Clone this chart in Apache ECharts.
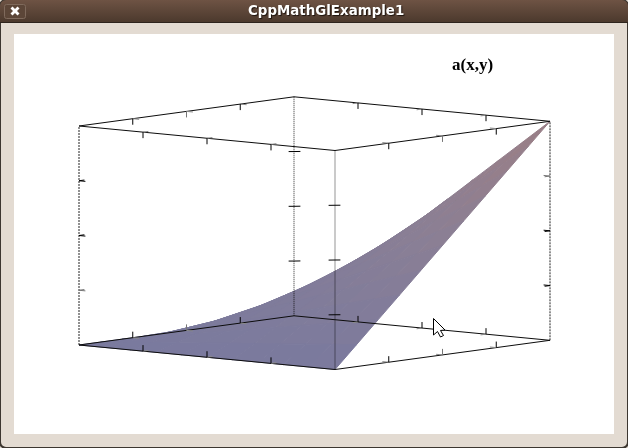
<!DOCTYPE html>
<html>
<head>
<meta charset="utf-8">
<style>html,body{margin:0;padding:0;background:#3c3630}#main{width:628px;height:448px}</style>
<script src="https://cdn.jsdelivr.net/npm/echarts@6/dist/echarts.min.js"></script>
</head>
<body>
<div id="main"></div>
<script>
var windowTitle = 'CppMathGlExample1';
var plotTitle = 'a(x,y)';
var xValues = [0, 0.1, 0.2, 0.3, 0.4, 0.5, 0.6, 0.7, 0.8, 0.9, 1];
var yValues = [0, 0.1, 0.2, 0.3, 0.4, 0.5, 0.6, 0.7, 0.8, 0.9, 1];
// surface values: one row per x value, one column per y value
var a00 = [0, 0, 0, 0, 0, 0, 0, 0, 0, 0, 0];
var a01 = [0, 0.01, 0.02, 0.03, 0.04, 0.05, 0.06, 0.07, 0.08, 0.09, 0.1];
var a02 = [0, 0.02, 0.04, 0.06, 0.08, 0.1, 0.12, 0.14, 0.16, 0.18, 0.2];
var a03 = [0, 0.03, 0.06, 0.09, 0.12, 0.15, 0.18, 0.21, 0.24, 0.27, 0.3];
var a04 = [0, 0.04, 0.08, 0.12, 0.16, 0.2, 0.24, 0.28, 0.32, 0.36, 0.4];
var a05 = [0, 0.05, 0.1, 0.15, 0.2, 0.25, 0.3, 0.35, 0.4, 0.45, 0.5];
var a06 = [0, 0.06, 0.12, 0.18, 0.24, 0.3, 0.36, 0.42, 0.48, 0.54, 0.6];
var a07 = [0, 0.07, 0.14, 0.21, 0.28, 0.35, 0.42, 0.49, 0.56, 0.63, 0.7];
var a08 = [0, 0.08, 0.16, 0.24, 0.32, 0.4, 0.48, 0.56, 0.64, 0.72, 0.8];
var a09 = [0, 0.09, 0.18, 0.27, 0.36, 0.45, 0.54, 0.63, 0.72, 0.81, 0.9];
var a10 = [0, 0.1, 0.2, 0.3, 0.4, 0.5, 0.6, 0.7, 0.8, 0.9, 1];
var aRows = [a00, a01, a02, a03, a04, a05, a06, a07, a08, a09, a10];
var tickValues = [0.25, 0.5, 0.75];

// view of the 3D box on the page
var view = { ox: 79, oy: 345, ux: 256, uy: 24.5, vx: 215, vy: -29.2, wy: -219 };
var tickLen = 0.025;
function project(p) {
  return [view.ox + p[0] * view.ux + p[1] * view.vx,
          view.oy + p[0] * view.uy + p[1] * view.vy + p[2] * view.wy];
}

// box edges as 3D segments
var solidEdges = [], outerEdges = [], innerEdges = [], ticks = [], greyTicks = [], sideTicks = [];
[0, 1].forEach(function (z) {
  solidEdges.push([0, 0, z, 1, 0, z], [1, 0, z, 1, 1, z], [1, 1, z, 0, 1, z], [0, 1, z, 0, 0, z]);
});
outerEdges.push([0, 0, 0, 0, 0, 1], [1, 1, 0, 1, 1, 1]);
innerEdges.push([1, 0, 0, 1, 0, 1], [0, 1, 0, 0, 1, 1]);
function add(list, p, d) { list.push([p[0], p[1], p[2], p[0] + d[0] * tickLen, p[1] + d[1] * tickLen, p[2] + d[2] * tickLen]); }
tickValues.forEach(function (t) {
  [0, 1].forEach(function (z) {
    var up = z ? -1 : 1;
    [0, 1].forEach(function (y) {
      add(ticks, [t, y, z], [0, 0, up * 1.1]);
      add(sideTicks, [t, y, z], [0, y ? -1 : 1, 0]);
    });
    [0, 1].forEach(function (x) {
      add(t === 0.5 ? greyTicks : ticks, [x, t, z], [0, 0, up * 1.1]);
      add(sideTicks, [x, t, z], [x ? -1 : 1, 0, 0]);
    });
  });
  [[0, 0], [1, 0], [0, 1], [1, 1]].forEach(function (c) {
    var list = (c[0] === c[1] && ((c[0] === 0 && t === 0.25) || (c[0] === 1 && t === 0.75))) ? greyTicks : ticks;
    var lift = c[0] === c[1] ? 0 : (c[1] ? 0.13 : -0.13);
    add(list, [c[0], c[1], t], [c[0] ? -1 : 1, 0, lift]);
    add(list, [c[0], c[1], t], [0, c[1] ? -1 : 1, lift]);
  });
});

// surface cells, back to front
var cells = [];
for (var j = yValues.length - 2; j >= 0; j--) {
  for (var i = 0; i < xValues.length - 1; i++) {
    var mean = (aRows[i][j] + aRows[i + 1][j] + aRows[i + 1][j + 1] + aRows[i][j + 1]) / 4;
    cells.push([i, j, mean]);
  }
}

function renderCell(params, api) {
  var i = api.value(0), j = api.value(1);
  var corners = [[i, j], [i + 1, j], [i + 1, j + 1], [i, j + 1]].map(function (c) {
    return api.coord(project([xValues[c[0]], yValues[c[1]], aRows[c[0]][c[1]]]));
  });
  var color = api.visual('color');
  return { type: 'polygon', shape: { points: corners }, style: { fill: color, stroke: color, lineWidth: 1, lineJoin: 'round' } };
}
function segmentSeries(name, segments, style, z) {
  return {
    name: name, type: 'custom', coordinateSystem: 'cartesian2d', data: segments, z: z, silent: true, clip: false,
    renderItem: function (params, api) {
      var a = api.coord(project([api.value(0), api.value(1), api.value(2)]));
      var b = api.coord(project([api.value(3), api.value(4), api.value(5)]));
      return { type: 'line', shape: { x1: a[0], y1: a[1], x2: b[0], y2: b[1] }, style: style };
    },
    encode: { x: 0, y: 1 }
  };
}

var chart = echarts.init(document.getElementById('main'), null, { renderer: 'canvas' });
chart.setOption({
  animation: false,
  backgroundColor: '#e3dbd2',
  grid: { left: 0, right: 0, top: 0, bottom: 0 },
  xAxis: { type: 'value', min: 0, max: 628, show: false },
  yAxis: { type: 'value', min: 0, max: 448, inverse: true, show: false },
  visualMap: {
    show: false, type: 'continuous', seriesIndex: 0, dimension: 2, min: 0, max: 1,
    inRange: { color: ['#7a7a9e', '#8a7f95', '#9c7f85'] }
  },
  title: [
    { text: windowTitle, left: 243, top: 0, z: 20, textStyle: { color: '#ffffff', fontFamily: 'DejaVu Sans', fontWeight: 'bold', fontSize: 13.4, textShadowColor: '#1c120c', textShadowBlur: 1, textShadowOffsetX: 1, textShadowOffsetY: 1 } },
    { text: plotTitle, left: 447, top: 52, z: 20, textStyle: { color: '#000000', fontFamily: 'Liberation Serif', fontWeight: 'bold', fontSize: 17 } }
  ],
  graphic: [
    { type: 'rect', z: -5, shape: { x: 0, y: 0, width: 628, height: 448, r: [6, 6, 6, 6] }, style: { fill: '#e3dbd2', stroke: '#3c3630', lineWidth: 2 } },
    { type: 'rect', z: -4, shape: { x: 0, y: 0, width: 628, height: 23, r: [6, 6, 0, 0] }, style: {
        fill: new echarts.graphic.LinearGradient(0, 0, 0, 1, [{ offset: 0, color: '#6e5344' }, { offset: 1, color: '#4a382c' }]) } },
    { type: 'line', z: -3, shape: { x1: 0, y1: 22.5, x2: 628, y2: 22.5 }, style: { stroke: '#2e241d', lineWidth: 1 } },
    { type: 'rect', z: -3, shape: { x: 4.5, y: 4.5, width: 21, height: 14, r: 2 }, style: { fill: '#5c4638', stroke: '#7f6a5c', lineWidth: 1 } },
    { type: 'line', z: -2, shape: { x1: 11.5, y1: 7.5, x2: 18.5, y2: 14.5 }, style: { stroke: '#ffffff', lineWidth: 2.8 } },
    { type: 'line', z: -2, shape: { x1: 18.5, y1: 7.5, x2: 11.5, y2: 14.5 }, style: { stroke: '#ffffff', lineWidth: 2.8 } },
    { type: 'rect', z: -3, shape: { x: 14, y: 34, width: 600, height: 400 }, style: { fill: '#ffffff' } },
    { type: 'polygon', z: 50, shape: { points: [[433.5, 318.5], [433.5, 335], [437.5, 331.5], [440.5, 337], [443.5, 335.5], [440.5, 330.5], [445, 330]] }, style: { fill: '#ffffff', stroke: '#000000', lineWidth: 1 } }
  ],
  series: [
    { name: 'a(x,y)', type: 'custom', coordinateSystem: 'cartesian2d', data: cells, z: 2, silent: true, renderItem: renderCell, encode: { x: 0, y: 1 } },
    segmentSeries('inner edges', innerEdges, { stroke: 'rgba(0,0,0,0.42)', lineWidth: 2, lineDash: [1, 1] }, 3),
    segmentSeries('outer edges', outerEdges, { stroke: '#222222', lineWidth: 1, lineDash: [2, 1] }, 3),
    segmentSeries('edges', solidEdges, { stroke: '#0c0c0c', lineWidth: 1 }, 4),
    segmentSeries('side ticks', sideTicks, { stroke: '#8a8a8a', lineWidth: 1 }, 4),
    segmentSeries('grey ticks', greyTicks, { stroke: '#777777', lineWidth: 1 }, 4),
    segmentSeries('ticks', ticks, { stroke: '#000000', lineWidth: 1 }, 4)
  ]
});
</script>
</body>
</html>
